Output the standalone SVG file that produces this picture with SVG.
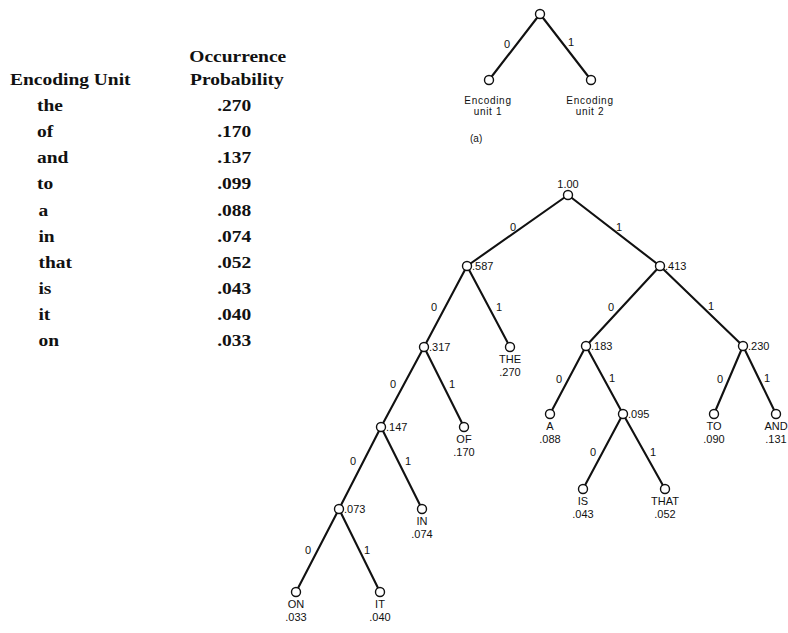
<svg xmlns="http://www.w3.org/2000/svg" width="788" height="633" viewBox="0 0 788 633">
<style>
.tb{font-family:"Liberation Serif","Times New Roman",serif;font-weight:bold;font-size:16.5px;fill:#111}
.mid{text-anchor:middle}
.t{font-family:"Liberation Sans",Arial,sans-serif;font-size:11px;fill:#111}
.e{font-family:"Liberation Sans",Arial,sans-serif;font-size:11px;fill:#111;text-anchor:middle}
.lf{font-family:"Liberation Sans",Arial,sans-serif;font-size:11px;fill:#111;text-anchor:middle}
.sm{font-family:"Liberation Sans",Arial,sans-serif;font-size:10px;fill:#111;letter-spacing:0.7px;text-anchor:middle}
.n{fill:#fff;stroke:#111;stroke-width:1.4}
.c line{stroke:#111;stroke-width:2.1;stroke-linecap:round}
</style>
<rect width="788" height="633" fill="#fff"/>

<!-- Table -->
<g id="table" transform="scale(1.18,1)">
<text class="tb" x="8.5" y="85">Encoding Unit</text>
<text class="tb mid" x="201.5" y="62">Occurrence</text>
<text class="tb mid" x="200.8" y="85">Probability</text>
<text class="tb" x="31.4" y="111.5">the</text>
<text class="tb" x="31.4" y="137.5">of</text>
<text class="tb" x="31.4" y="163.5">and</text>
<text class="tb" x="31.4" y="189.5">to</text>
<text class="tb" x="32.6" y="216">a</text>
<text class="tb" x="32.6" y="242">in</text>
<text class="tb" x="32.6" y="268">that</text>
<text class="tb" x="32.6" y="294">is</text>
<text class="tb" x="32.6" y="320">it</text>
<text class="tb" x="32.6" y="346">on</text>
<text class="tb mid" x="198.5" y="111.5">.270</text>
<text class="tb mid" x="198.5" y="137.5">.170</text>
<text class="tb mid" x="198.5" y="163.5">.137</text>
<text class="tb mid" x="198.5" y="189.5">.099</text>
<text class="tb mid" x="198.5" y="216">.088</text>
<text class="tb mid" x="198.5" y="242">.074</text>
<text class="tb mid" x="198.5" y="268">.052</text>
<text class="tb mid" x="198.5" y="294">.043</text>
<text class="tb mid" x="198.5" y="320">.040</text>
<text class="tb mid" x="198.5" y="346">.033</text>
</g>

<!-- Connectors -->
<g id="connectors" class="c">
<line x1="540" y1="14" x2="489" y2="80"/>
<line x1="540" y1="14" x2="591" y2="80"/>
<line x1="568" y1="195" x2="467" y2="266"/>
<line x1="568" y1="195" x2="660" y2="266"/>
<line x1="467" y1="266" x2="424" y2="347"/>
<line x1="467" y1="266" x2="510" y2="347"/>
<line x1="424" y1="347" x2="381" y2="427"/>
<line x1="424" y1="347" x2="464" y2="427"/>
<line x1="381" y1="427" x2="339" y2="509"/>
<line x1="381" y1="427" x2="422" y2="509"/>
<line x1="339" y1="509" x2="296" y2="592"/>
<line x1="339" y1="509" x2="380" y2="592"/>
<line x1="660" y1="266" x2="586" y2="346"/>
<line x1="660" y1="266" x2="743" y2="346"/>
<line x1="586" y1="346" x2="550" y2="414"/>
<line x1="586" y1="346" x2="623" y2="414"/>
<line x1="743" y1="346" x2="714" y2="414"/>
<line x1="743" y1="346" x2="776" y2="414"/>
<line x1="623" y1="414" x2="583" y2="489"/>
<line x1="623" y1="414" x2="665" y2="489"/>
<text class="e" x="507" y="48">0</text>
<text class="e" x="571" y="46">1</text>
<text class="e" x="513" y="231">0</text>
<text class="e" x="619" y="231">1</text>
<text class="e" x="434" y="311">0</text>
<text class="e" x="499" y="311">1</text>
<text class="e" x="393" y="388">0</text>
<text class="e" x="452" y="388">1</text>
<text class="e" x="353" y="465">0</text>
<text class="e" x="408" y="465">1</text>
<text class="e" x="308" y="554">0</text>
<text class="e" x="367" y="554">1</text>
<text class="e" x="611" y="311">0</text>
<text class="e" x="711" y="310">1</text>
<text class="e" x="559" y="383">0</text>
<text class="e" x="612" y="382">1</text>
<text class="e" x="720" y="383">0</text>
<text class="e" x="767" y="382">1</text>
<text class="e" x="593" y="456">0</text>
<text class="e" x="653" y="456">1</text>
</g>

<!-- Diagram (a) -->
<g id="a-root"><circle class="n" cx="540" cy="14" r="4.5"/></g>
<g id="a-unit1"><circle class="n" cx="489" cy="80" r="4.5"/>
<text class="sm" x="488" y="104">Encoding</text><text class="sm" x="488" y="115">unit 1</text></g>
<g id="a-unit2"><circle class="n" cx="591" cy="80" r="4.5"/>
<text class="sm" x="590" y="104">Encoding</text><text class="sm" x="590" y="115">unit 2</text></g>
<text class="t" x="470" y="142" style="font-size:10px">(a)</text>

<!-- Huffman tree -->
<g id="n-root"><circle class="n" cx="568" cy="195" r="4.5"/><text class="lf" x="568" y="188">1.00</text></g>
<g id="n-587"><circle class="n" cx="467" cy="266" r="4.5"/><text class="t" x="472" y="270">.587</text></g>
<g id="n-413"><circle class="n" cx="660" cy="266" r="4.5"/><text class="t" x="665" y="270">.413</text></g>
<g id="n-317"><circle class="n" cx="424" cy="347" r="4.5"/><text class="t" x="429" y="351">.317</text></g>
<g id="n-the"><circle class="n" cx="510" cy="347" r="4.5"/><text class="lf" x="510" y="363">THE</text><text class="lf" x="510" y="376">.270</text></g>
<g id="n-147"><circle class="n" cx="381" cy="427" r="4.5"/><text class="t" x="386" y="431">.147</text></g>
<g id="n-of"><circle class="n" cx="464" cy="427" r="4.5"/><text class="lf" x="464" y="443">OF</text><text class="lf" x="464" y="456">.170</text></g>
<g id="n-073"><circle class="n" cx="339" cy="509" r="4.5"/><text class="t" x="344" y="513">.073</text></g>
<g id="n-in"><circle class="n" cx="422" cy="509" r="4.5"/><text class="lf" x="422" y="525">IN</text><text class="lf" x="422" y="538">.074</text></g>
<g id="n-on"><circle class="n" cx="296" cy="592" r="4.5"/><text class="lf" x="296" y="608">ON</text><text class="lf" x="296" y="621">.033</text></g>
<g id="n-it"><circle class="n" cx="380" cy="592" r="4.5"/><text class="lf" x="380" y="608">IT</text><text class="lf" x="380" y="621">.040</text></g>
<g id="n-183"><circle class="n" cx="586" cy="346" r="4.5"/><text class="t" x="591" y="350">.183</text></g>
<g id="n-230"><circle class="n" cx="743" cy="346" r="4.5"/><text class="t" x="748" y="350">.230</text></g>
<g id="n-a"><circle class="n" cx="550" cy="414" r="4.5"/><text class="lf" x="550" y="430">A</text><text class="lf" x="550" y="443">.088</text></g>
<g id="n-095"><circle class="n" cx="623" cy="414" r="4.5"/><text class="t" x="628" y="418">.095</text></g>
<g id="n-to"><circle class="n" cx="714" cy="414" r="4.5"/><text class="lf" x="714" y="430">TO</text><text class="lf" x="714" y="443">.090</text></g>
<g id="n-and"><circle class="n" cx="776" cy="414" r="4.5"/><text class="lf" x="776" y="430">AND</text><text class="lf" x="776" y="443">.131</text></g>
<g id="n-is"><circle class="n" cx="583" cy="489" r="4.5"/><text class="lf" x="583" y="505">IS</text><text class="lf" x="583" y="518">.043</text></g>
<g id="n-that"><circle class="n" cx="665" cy="489" r="4.5"/><text class="lf" x="665" y="505">THAT</text><text class="lf" x="665" y="518">.052</text></g>
</svg>
